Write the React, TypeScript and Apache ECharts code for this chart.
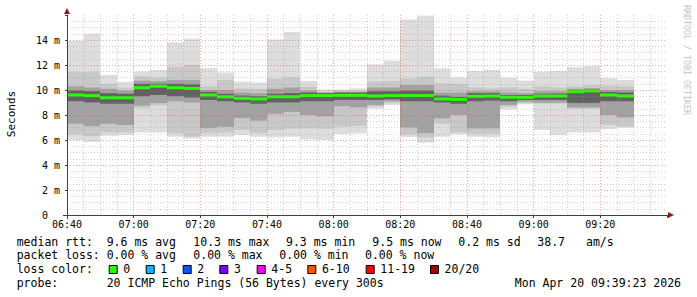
import React, { useEffect, useRef } from 'react';
import * as echarts from 'echarts';

// ---- data (5-minute steps, values in ms) ----
const slotStarts = ['06:40','06:45','06:50','06:55','07:00','07:05','07:10','07:15','07:20','07:25','07:30','07:35','07:40','07:45','07:50','07:55','08:00','08:05','08:10','08:15','08:20','08:25','08:30','08:35','08:40','08:45','08:50','08:55','09:00','09:05','09:10','09:15','09:20','09:25'];
const rttMax = [13.95,14.5,11.2,10.65,11.47,11.6,13.8,14.1,11.75,11.4,10.67,10.6,14.05,14.65,10.72,10.05,10.05,10.13,12.05,12.35,15.65,15.95,11.75,11.0,11.52,11.6,10.99,10.75,11.47,11.52,11.85,11.92,10.95,10.8];
const rttHi1 = [11.45,11.45,10.5,10.2,11.1,11.0,11.85,12.0,10.3,10.8,10.13,10.1,10.9,11.05,10.27,9.9,9.95,9.95,10.67,10.72,10.93,11.07,10.53,10.5,10.2,10.13,10.2,10.1,10.3,10.2,10.3,10.4,10.35,10.3];
const rttHi2 = [10.3,10.2,10.1,9.95,10.75,10.7,10.8,10.8,10.0,10.0,9.8,9.75,10.1,10.2,9.95,9.8,9.85,9.85,10.2,10.2,10.4,10.4,9.8,9.8,9.9,9.9,9.8,9.75,9.9,9.9,10.1,10.15,10.0,10.0];
const rttHi3 = [9.95,9.9,9.75,9.7,10.5,10.5,10.5,10.45,9.85,9.7,9.55,9.5,9.7,9.75,9.8,9.75,9.8,9.8,9.9,9.9,9.95,9.95,9.55,9.45,9.75,9.75,9.6,9.6,9.7,9.72,10.0,10.05,9.85,9.8];
const rttMedian = [9.6,9.55,9.38,9.38,10.18,10.3,10.18,10.13,9.6,9.46,9.33,9.28,9.46,9.46,9.55,9.55,9.57,9.57,9.52,9.55,9.55,9.55,9.28,9.25,9.5,9.52,9.42,9.41,9.52,9.52,9.87,9.93,9.6,9.52];
const rttLo3 = [9.1,9.0,8.9,8.9,9.5,9.6,9.5,9.4,9.2,9.1,9.0,8.9,9.0,9.0,9.1,9.1,9.2,9.2,9.2,9.25,9.1,9.1,9.0,8.9,9.1,9.15,9.1,9.2,9.2,9.2,8.95,8.95,9.1,9.1];
const rttLo2 = [7.3,7.1,7.3,7.2,8.75,8.95,9.1,9.0,6.95,7.05,7.75,7.55,8.1,8.25,8.0,7.9,8.7,8.6,8.8,9.1,7.0,6.55,7.73,8.0,6.93,6.93,8.8,9.07,9.0,9.0,8.6,8.6,8.0,7.8];
const rttLo1 = [6.45,6.3,6.6,6.6,8.55,8.75,6.55,6.27,6.55,6.6,6.8,6.55,6.8,6.9,6.93,6.9,7.07,7.12,8.67,8.99,6.45,6.2,7.3,6.6,6.5,6.5,8.67,8.95,8.9,8.9,8.5,8.5,7.2,7.05];
const rttMin = [6.0,5.87,6.35,6.4,6.6,6.6,6.27,6.13,6.27,6.27,6.4,6.27,6.2,6.27,6.05,6.0,6.48,6.53,8.5,8.8,6.22,5.79,6.27,6.45,6.27,6.22,8.45,8.85,6.8,6.4,6.6,6.6,6.88,7.0];

const xTickLabels = ['06:40','07:00','07:20','07:40','08:00','08:20','08:40','09:00','09:20'];
const yTickLabels = ['0','2 m','4 m','6 m','8 m','10 m','12 m','14 m'];

const lossLabels = ['0','1','2','3','4-5','6-10','11-19','20/20'];
const lossColors = ['#26ff00','#00b8ff','#0059ff','#7e00ff','#ff00ff','#ff5500','#ff0000','#a10000'];

const legendMedian = ['median rtt:','9.6 ms avg','10.3 ms max','9.3 ms min','9.5 ms now','0.2 ms sd','38.7','am/s'];
const legendLoss = ['packet loss:','0.00 % avg','0.00 % max','0.00 % min','0.00 % now'];
const probeText = ['probe:','20 ICMP Echo Pings (56 Bytes) every 300s'];
const stampText = 'Mon Apr 20 09:39:23 2026';

// ---- layout ----
const MONO = 'DejaVu Sans Mono';
const medianX = [16.7,106.7,193.3,286,372.3,458.3,537.3,586];
const lossX = [16.7,106.7,193.3,279.3,365];
const boxX = [108.7,145.7,182.7,219.3,256.7,307.3,365.7,430];

const toMin = (s: string) => { const [h, m] = s.split(':').map(Number); return h * 60 + m; };
const fmtTime = (v: number) => {
  const i = Math.round((v - 400) / 20);
  return i >= 0 && i < xTickLabels.length ? xTickLabels[i] : '';
};

export default function App() {
  const ref = useRef<HTMLDivElement>(null);
  useEffect(() => {
    if (!ref.current) return;
    const chart = echarts.init(ref.current, null, { renderer: 'svg' });
    const data = slotStarts.map((s, i) => [toMin(s), rttMax[i], rttHi1[i], rttHi2[i], rttHi3[i], rttMedian[i], rttLo3[i], rttLo2[i], rttLo1[i], rttMin[i]]);
    const bandDefs: [number, number, string][] = [[1, 9, '#dddddd'], [2, 8, '#c8c8c8'], [3, 7, '#a2a2a2'], [4, 6, '#626262']];
    const minorGrid = 'rgba(150,150,150,0.45)';
    const majorGrid = 'rgba(210,60,60,0.45)';

    const graphics: any[] = [];
    const txt = (x: number, y: number, text: string, extra: any = {}) =>
      graphics.push({ type: 'text', x, y, z: 10, style: { text, fill: '#000', font: `11.5px "${MONO}"`, verticalAlign: 'middle', align: 'left', ...extra } });
    legendMedian.forEach((t, i) => txt(medianX[i], 241.7, t));
    legendLoss.forEach((t, i) => txt(lossX[i], 255, t));
    txt(16.7, 269.3, 'loss color:');
    lossLabels.forEach((t, i) => {
      graphics.push({ type: 'rect', z: 10, shape: { x: boxX[i] + 0.5, y: 265.5, width: 8, height: 8 }, style: { fill: lossColors[i], stroke: '#000', lineWidth: 1 } });
      txt(boxX[i] + 14.6, 269.3, t);
    });
    txt(16.7, 283.3, probeText[0]);
    txt(106.7, 283.3, probeText[1]);
    txt(681, 283.3, stampText, { align: 'right' });
    graphics.push({ type: 'text', x: 11, y: 114, rotation: Math.PI / 2, z: 10, style: { text: 'Seconds', fill: '#000', font: `11px "${MONO}"`, align: 'center', verticalAlign: 'middle' } });
    graphics.push({ type: 'text', x: 687, y: 60, rotation: -Math.PI / 2, z: 10, style: { text: 'RRDTOOL / TOBI OETIKER', fill: '#c4c4c4', font: `8.3px "${MONO}"`, align: 'center', verticalAlign: 'middle' } });
    graphics.push({ type: 'polygon', z: 10, shape: { points: [[64, 14], [70, 14], [67, 8]] }, style: { fill: '#8b1a1a' } });
    graphics.push({ type: 'polygon', z: 10, shape: { points: [[668, 212], [668, 218], [674, 215]] }, style: { fill: '#8b1a1a' } });
    graphics.push({ type: 'line', z: 10, shape: { x1: 67.5, y1: 215, x2: 67.5, y2: 219 }, style: { stroke: '#404040', lineWidth: 1 } });
    graphics.push({ type: 'line', z: 10, shape: { x1: 63, y1: 215.5, x2: 67, y2: 215.5 }, style: { stroke: '#404040', lineWidth: 1 } });

    chart.setOption({
      animation: false,
      backgroundColor: '#ffffff',
      grid: { left: 67, top: 15, width: 600, height: 200 },
      xAxis: {
        type: 'value', min: 400, max: 580, interval: 20, z: 5,
        axisLine: { show: true, onZero: false, lineStyle: { color: '#404040', width: 1 } },
        axisTick: { show: true, length: 3, lineStyle: { color: '#404040' } },
        minorTick: { show: true, splitNumber: 4, length: 0 },
        axisLabel: { fontFamily: MONO, fontSize: 10, color: '#000', margin: 4, formatter: fmtTime },
        splitLine: { show: true, showMinLine: false, showMaxLine: false, lineStyle: { color: majorGrid, type: [1, 2], width: 1 } },
        minorSplitLine: { show: true, lineStyle: { color: minorGrid, type: [1, 2], width: 1 } },
      },
      yAxis: {
        type: 'value', min: 0, max: 16, interval: 2, z: 5,
        axisLine: { show: true, lineStyle: { color: '#404040', width: 1 } },
        axisTick: { show: true, length: 2, lineStyle: { color: '#404040' } },
        minorTick: { show: true, splitNumber: 4, length: 0 },
        axisLabel: {
          fontFamily: MONO, fontSize: 10, color: '#000', margin: 7,
          formatter: (v: number) => {
            const i = Math.round(v / 2);
            if (i >= yTickLabels.length) return '';
            return i === 0 ? yTickLabels[0] + '\u00a0\u00a0' : yTickLabels[i];
          },
        },
        splitLine: { show: true, showMinLine: false, showMaxLine: false, lineStyle: { color: majorGrid, type: [1, 2], width: 1 } },
        minorSplitLine: { show: true, lineStyle: { color: minorGrid, type: [1, 2], width: 1 } },
      },
      series: [{
        type: 'custom', z: 1, clip: true,
        data,
        encode: { x: 0, y: [1, 9] },
        renderItem: (_p: any, api: any) => {
          const t = api.value(0);
          const xa = Math.round(api.coord([t, 0])[0]);
          const xb = Math.round(api.coord([t + 5, 0])[0]);
          const yOf = (v: number) => api.coord([t, v])[1];
          const children: any[] = bandDefs.map(([hi, lo, c]) => {
            const yh = yOf(api.value(hi));
            const yl = yOf(api.value(lo));
            return { type: 'rect', shape: { x: xa, y: yh, width: xb - xa, height: yl - yh }, style: { fill: c } };
          });
          const ym = yOf(api.value(5));
          children.push({ type: 'rect', shape: { x: xa, y: ym - 1.5, width: xb - xa, height: 3 }, style: { fill: '#26ff00' } });
          return { type: 'group', children };
        },
      }],
      graphic: graphics,
    });
    return () => chart.dispose();
  }, []);
  return <div ref={ref} style={{ position: 'absolute', left: 0, top: 0, width: 697, height: 297 }} />;
}
